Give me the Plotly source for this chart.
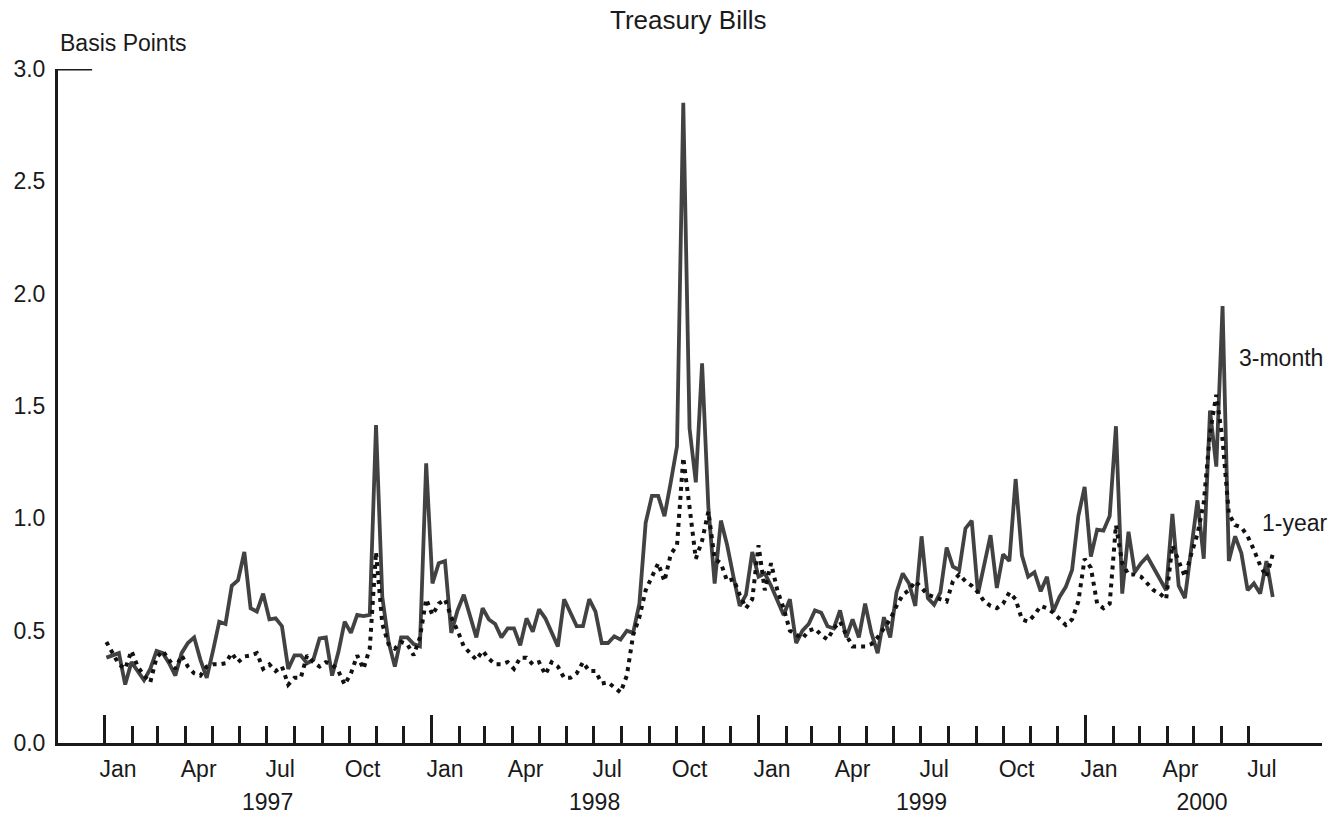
import pandas as pd
import plotly.graph_objects as go

# ---------------- data ----------------
week_start = "1997-01-03"
three_month = [
    0.38, 0.39, 0.40, 0.26, 0.36, 0.32, 0.28, 0.33, 0.41, 0.40,
    0.355, 0.30, 0.40, 0.445, 0.47, 0.37, 0.29, 0.41, 0.54, 0.53,
    0.70, 0.725, 0.85, 0.60, 0.585, 0.665, 0.55, 0.555, 0.52, 0.33,
    0.39, 0.39, 0.355, 0.37, 0.465, 0.47, 0.30, 0.405, 0.54, 0.49,
    0.57, 0.565, 0.57, 1.415, 0.65, 0.45, 0.34, 0.47, 0.47, 0.44,
    0.43, 1.245, 0.71, 0.80, 0.81, 0.49, 0.59, 0.66, 0.57, 0.47,
    0.60, 0.55, 0.53, 0.47, 0.51, 0.51, 0.435, 0.555, 0.495, 0.595,
    0.555, 0.495, 0.43, 0.64, 0.58, 0.52, 0.52, 0.64, 0.585, 0.445,
    0.445, 0.475, 0.46, 0.50, 0.49, 0.62, 0.98, 1.10, 1.10, 1.01,
    1.16, 1.32, 2.85, 1.40, 1.16, 1.69, 1.05, 0.71, 0.99, 0.88,
    0.74, 0.61, 0.66, 0.85, 0.74, 0.755, 0.70, 0.635, 0.57, 0.64,
    0.445, 0.50, 0.53, 0.59, 0.58, 0.52, 0.51, 0.59, 0.47, 0.55,
    0.47, 0.62, 0.49, 0.40, 0.56, 0.47, 0.67, 0.755, 0.71, 0.61,
    0.92, 0.645, 0.615, 0.67, 0.87, 0.785, 0.77, 0.955, 0.99, 0.665,
    0.80, 0.925, 0.69, 0.84, 0.81, 1.175, 0.835, 0.74, 0.76, 0.675,
    0.74, 0.585, 0.65, 0.695, 0.77, 1.01, 1.14, 0.83, 0.95, 0.945,
    1.01, 1.41, 0.665, 0.94, 0.76, 0.80, 0.83, 0.78, 0.725, 0.68,
    1.02, 0.70, 0.645, 0.86, 1.08, 0.82, 1.48, 1.23, 1.945, 0.81,
    0.92, 0.845, 0.68, 0.71, 0.665, 0.81, 0.65,
]
one_year = [
    0.45, 0.40, 0.35, 0.33, 0.41, 0.34, 0.30, 0.27, 0.38, 0.41,
    0.37, 0.33, 0.39, 0.34, 0.31, 0.30, 0.34, 0.35, 0.35, 0.355,
    0.40, 0.36, 0.385, 0.39, 0.40, 0.33, 0.35, 0.32, 0.34, 0.26,
    0.29, 0.29, 0.39, 0.36, 0.34, 0.36, 0.35, 0.32, 0.26, 0.31,
    0.39, 0.33, 0.42, 0.85, 0.53, 0.44, 0.42, 0.45, 0.44, 0.39,
    0.47, 0.64, 0.57, 0.62, 0.64, 0.56, 0.50, 0.43, 0.40, 0.37,
    0.41, 0.375, 0.35, 0.35, 0.36, 0.33, 0.38, 0.38, 0.35, 0.36,
    0.305, 0.36, 0.34, 0.29, 0.29, 0.31, 0.36, 0.32, 0.32, 0.265,
    0.27, 0.25, 0.225, 0.30, 0.48, 0.56, 0.68, 0.74, 0.80, 0.72,
    0.84, 0.88, 1.27, 1.05, 0.82, 0.90, 1.03, 0.82, 0.80, 0.72,
    0.73, 0.66, 0.60, 0.64, 0.88, 0.68, 0.80, 0.68, 0.60, 0.50,
    0.48, 0.465, 0.50, 0.51, 0.48, 0.46, 0.51, 0.54, 0.48, 0.43,
    0.43, 0.43, 0.44, 0.47, 0.51, 0.55, 0.61, 0.66, 0.68, 0.72,
    0.69, 0.66, 0.65, 0.64, 0.63, 0.72, 0.75, 0.72, 0.70, 0.67,
    0.63, 0.61, 0.60, 0.62, 0.67, 0.64, 0.55, 0.54, 0.57, 0.61,
    0.60, 0.58, 0.55, 0.525, 0.55, 0.63, 0.82, 0.78, 0.62, 0.60,
    0.62, 0.97, 0.80, 0.75, 0.75, 0.74, 0.71, 0.68, 0.665, 0.64,
    0.88, 0.81, 0.74, 0.84, 0.93, 1.07, 1.38, 1.55, 1.35, 1.02,
    0.97, 0.96, 0.92, 0.86, 0.79, 0.74, 0.84,
]
series_names = ["3-month", "1-year"]

year_tick_dates = ["1997-01-01", "1998-01-01", "1999-01-01", "2000-01-01"]
month_tick_dates = [d.strftime("%Y-%m-%d") for d in pd.date_range("1997-01-01", "2000-07-01", freq="MS")]
month_label_dates = ["1997-01-16", "1997-04-16", "1997-07-16", "1997-10-16",
                     "1998-01-16", "1998-04-16", "1998-07-16", "1998-10-16",
                     "1999-01-16", "1999-04-16", "1999-07-16", "1999-10-16",
                     "2000-01-16", "2000-04-16", "2000-07-16"]
month_labels = ["Jan", "Apr", "Jul", "Oct"] * 3 + ["Jan", "Apr", "Jul"]
year_label_dates = ["1997-07-02", "1998-07-02", "1999-07-02", "2000-05-10"]
year_labels = ["1997", "1998", "1999", "2000"]
y_ticks = [0.0, 0.5, 1.0, 1.5, 2.0, 2.5, 3.0]
x_range = ["1996-11-10", "2000-09-21"]

dates = pd.date_range(week_start, periods=len(three_month), freq="7D")

FONT = "Liberation Sans, Arial, Helvetica, sans-serif"
INK = "#1a1a1a"
FS = 23

fig = go.Figure()
fig.add_trace(go.Scatter(x=dates, y=three_month, name=series_names[0], mode="lines",
                         line=dict(color="#424242", width=3.8)))
fig.add_trace(go.Scatter(x=dates, y=one_year, name=series_names[1], mode="lines",
                         line=dict(color="#111111", width=4, dash="4px,5px")))

# invisible traces bound to label axes so they render
fig.add_trace(go.Scatter(x=[dates[0]], y=[None], xaxis="x2", showlegend=False, hoverinfo="skip"))
fig.add_trace(go.Scatter(x=[dates[0]], y=[None], xaxis="x3", showlegend=False, hoverinfo="skip"))

fig.update_layout(
    width=1338, height=818,
    paper_bgcolor="white", plot_bgcolor="white",
    margin=dict(l=58, r=16, t=69, b=75, autoexpand=False),
    showlegend=False,
    font=dict(family=FONT, size=FS, color=INK),
    xaxis=dict(type="date", range=x_range, showgrid=False, zeroline=False, automargin=False,
               showline=True, linewidth=3, linecolor=INK,
               tickmode="array", tickvals=year_tick_dates, showticklabels=False,
               ticks="inside", ticklen=28, tickwidth=3, tickcolor=INK,
               minor=dict(tickmode="array", tickvals=month_tick_dates, ticks="inside",
                          ticklen=17, tickwidth=3, tickcolor=INK, showgrid=False)),
    xaxis2=dict(type="date", range=x_range, overlaying="x", anchor="y", side="bottom",
                showgrid=False, zeroline=False, showline=False, ticks="", automargin=False,
                tickmode="array", tickvals=month_label_dates, ticktext=month_labels,
                tickfont=dict(family=FONT, size=FS, color=INK), ticklabelstandoff=10),
    xaxis3=dict(type="date", range=x_range, overlaying="x", anchor="y", side="bottom",
                showgrid=False, zeroline=False, showline=False, ticks="", automargin=False,
                tickmode="array", tickvals=year_label_dates, ticktext=year_labels,
                tickfont=dict(family=FONT, size=FS, color=INK), ticklabelstandoff=43),
    yaxis=dict(range=[0, 3.0], showgrid=False, zeroline=False, automargin=False,
               showline=True, linewidth=3, linecolor=INK,
               tickmode="array", tickvals=y_ticks, tickformat=".1f", ticks="",
               tickfont=dict(family=FONT, size=FS, color=INK), ticklabelstandoff=5),
)

# top tick mark at 3.0
fig.add_shape(type="line", xref="paper", yref="y", x0=0, x1=0.027, y0=3.0, y1=3.0,
              line=dict(color=INK, width=3))

fig.add_annotation(text="Treasury Bills", xref="paper", yref="paper", x=(688 - 58) / 1264,
                   y=(743 - 20) / 674, xanchor="center", yanchor="middle", showarrow=False,
                   font=dict(family=FONT, size=26, color=INK))
fig.add_annotation(text="Basis Points", xref="paper", yref="paper", x=0, y=(743 - 43) / 674,
                   xanchor="left", yanchor="middle", showarrow=False,
                   font=dict(family=FONT, size=FS, color=INK))
fig.add_annotation(text=series_names[0], x="2000-06-18", y=1.713, xanchor="left", yanchor="middle",
                   showarrow=False, font=dict(family=FONT, size=FS, color=INK))
fig.add_annotation(text=series_names[1], x="2000-07-14", y=0.979, xanchor="left", yanchor="middle",
                   showarrow=False, font=dict(family=FONT, size=FS, color=INK))

fig.write_html("out.html", config={"displayModeBar": False},
               post_script="document.body.style.margin='0';document.body.style.overflow='hidden';")
